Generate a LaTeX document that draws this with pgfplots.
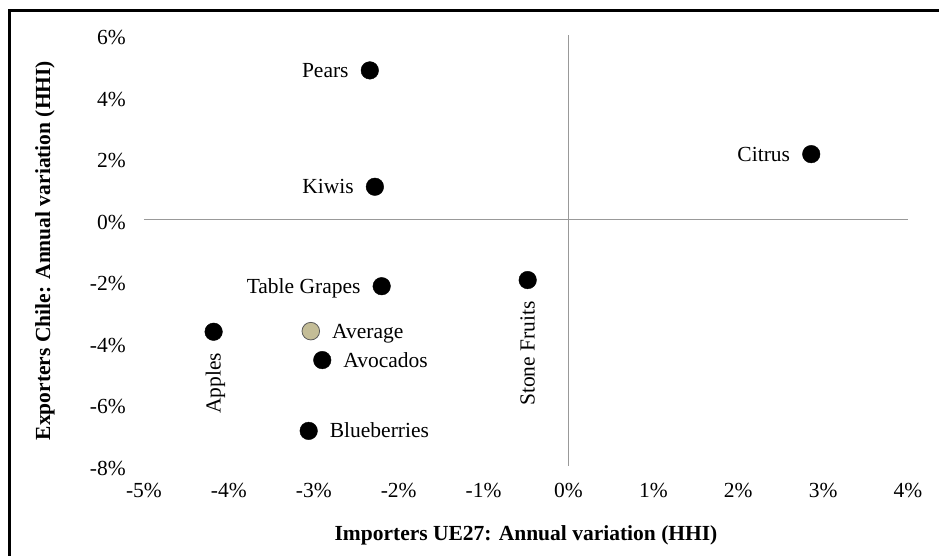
\documentclass[border=0pt]{standalone}
\usepackage{pgfplots}
\pgfplotsset{compat=1.18}
\usepackage{fontspec}
\setmainfont{Liberation Serif}
\newcommand\chartfont{\fontsize{21.5bp}{25bp}\selectfont}
\definecolor{avgfill}{HTML}{C4BD97}
\begin{document}
\begin{tikzpicture}
\begin{axis}[
 scale only axis, width=764bp, height=431bp,
 xmin=-5, xmax=4, ymin=-8, ymax=6,
 xtick={-5,...,4}, ytick={-8,-6,...,6},
 xticklabels={-5\%,-4\%,-3\%,-2\%,-1\%,0\%,1\%,2\%,3\%,4\%},
 yticklabels={-8\%,-6\%,-4\%,-2\%,0\%,2\%,4\%,6\%},
 axis line style={draw=none},
 major tick length=0pt,
 tick label style={font=\chartfont, inner sep=0pt},
 xticklabel style={anchor=base, yshift=-32bp},
 yticklabel style={anchor=east, xshift=-18bp, yshift=-2.5bp},
 extra x ticks={0}, extra x tick labels={},
 extra y ticks={0}, extra y tick labels={},
 extra x tick style={grid=major, major grid style={gray!80, line width=0.9bp}, major tick length=0pt},
 extra y tick style={grid=major, major grid style={gray!80, line width=0.9bp}, major tick length=0pt},
 xlabel={Importers UE27: Annual variation (HHI)},
 ylabel={Exporters Chile: Annual variation (HHI)},
 label style={font=\chartfont\bfseries},
 xlabel style={at={([yshift=-69bp]axis description cs:0.5,0)}, anchor=center},
 ylabel style={at={([xshift=-99bp]axis description cs:0,0.5)}, anchor=center},
 clip=false,
 point meta=explicit symbolic,
 nodes near coords,
 nodes near coords style={font=\chartfont, inner sep=0pt, text=black},
 mark size=8.8bp,
]
\coordinate (sw) at (rel axis cs:0,0);
\coordinate (nw) at (rel axis cs:0,1);
% labels to the left
\addplot[only marks, mark=*, black,
  nodes near coords style={anchor=base east, xshift=-21bp, yshift=-7bp}]
  table[meta=label, row sep=\\]{
x y label\\
-2.34 4.85 Pears\\
-2.28 1.07 Kiwis\\
2.86 2.13 Citrus\\
-2.20 -2.16 {Table Grapes}\\
};
% labels to the right
\addplot[only marks, mark=*, black,
  nodes near coords style={anchor=base west, xshift=21bp, yshift=-7bp}]
  table[meta=label, row sep=\\]{
x y label\\
-2.90 -4.56 Avocados\\
-3.06 -6.86 Blueberries\\
};
% rotated labels below
\addplot[only marks, mark=*, black,
  nodes near coords style={xshift=7bp, yshift=-21bp, rotate=90, anchor=base east}]
  table[meta=label, row sep=\\]{
x y label\\
-4.18 -3.64 Apples\\
-0.48 -1.96 {Stone Fruits}\\
};
% average
\addplot[only marks, mark=*, mark options={fill=avgfill, draw=gray!70!black, line width=0.8bp},
  nodes near coords style={anchor=base west, xshift=21bp, yshift=-7bp}]
  table[meta=label, row sep=\\]{
x y label\\
-3.035 -3.62 Average\\
};
\end{axis}
\draw[line width=3bp, line join=miter, line cap=butt] ([xshift=-134.7bp,yshift=-90bp]sw) -- ([xshift=-134.7bp,yshift=24.5bp]nw) -- ([xshift=795bp,yshift=24.5bp]nw);
\pgfresetboundingbox
\useasboundingbox ([xshift=-144bp,yshift=-90bp]sw) rectangle ([xshift=795bp,yshift=35bp]nw);
\end{tikzpicture}
\end{document}
